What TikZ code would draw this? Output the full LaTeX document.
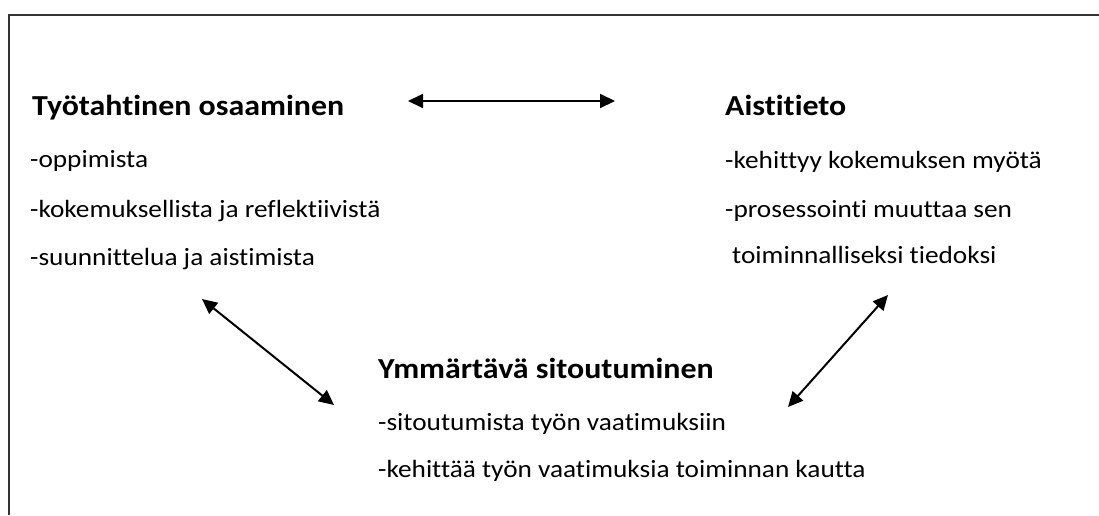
\documentclass[tikz,border=0pt]{standalone}
\usepackage{fontspec}
\setmainfont{Carlito}[Ligatures=CommonOff,FakeStretch=1.1]
\usetikzlibrary{arrows.meta}

\begin{document}
\begin{tikzpicture}[x=1pt,y=-1pt,
    heading/.style={anchor=base west,inner sep=0pt,font=\fontsize{29}{34}\selectfont\bfseries},
    item/.style={anchor=base west,inner sep=0pt,font=\fontsize{24.8}{29}\selectfont},
    link/.style={{Triangle[length=15pt,width=14pt]}-{Triangle[length=15pt,width=14pt]},line width=2pt}]
    \useasboundingbox (0,0) rectangle (1099,515);

    % frame
    \draw[line width=1.5pt,black!80] (9,515) -- (9,15) -- (1099,15);

    % left block
    \node[heading] (tyo) at (32,115) {Työtahtinen osaaminen};
    \node[item] (tyo1) at (30,167) {-oppimista};
    \node[item] (tyo2) at (30,217) {-kokemuksellista ja reflektiivistä};
    \node[item] (tyo3) at (30,265) {-suunnittelua ja aistimista};

    % right block
    \node[heading] (ais) at (725,115) {Aistitieto};
    \node[item] (ais1) at (725,168) {-kehittyy kokemuksen myötä};
    \node[item] (ais2) at (725,217) {-prosessointi muuttaa sen};
    \node[item] (ais3) at (732,263) {toiminnalliseksi tiedoksi};

    % bottom block
    \node[heading] (ymm) at (378,378) {Ymmärtävä sitoutuminen};
    \node[item] (ymm1) at (378,430) {-sitoutumista työn vaatimuksiin};
    \node[item] (ymm2) at (378,477) {-kehittää työn vaatimuksia toiminnan kautta};

    \coordinate (a1) at (408,101);
    \coordinate (a2) at (615,101);
    \coordinate (b1) at (202,299);
    \coordinate (b2) at (334,405);
    \coordinate (c1) at (888,295);
    \coordinate (c2) at (788,407);
    \draw[link] (a1)--(a2);
    \draw[link] (b1)--(b2);
    \draw[link] (c1)--(c2);

\end{tikzpicture}
\end{document}
